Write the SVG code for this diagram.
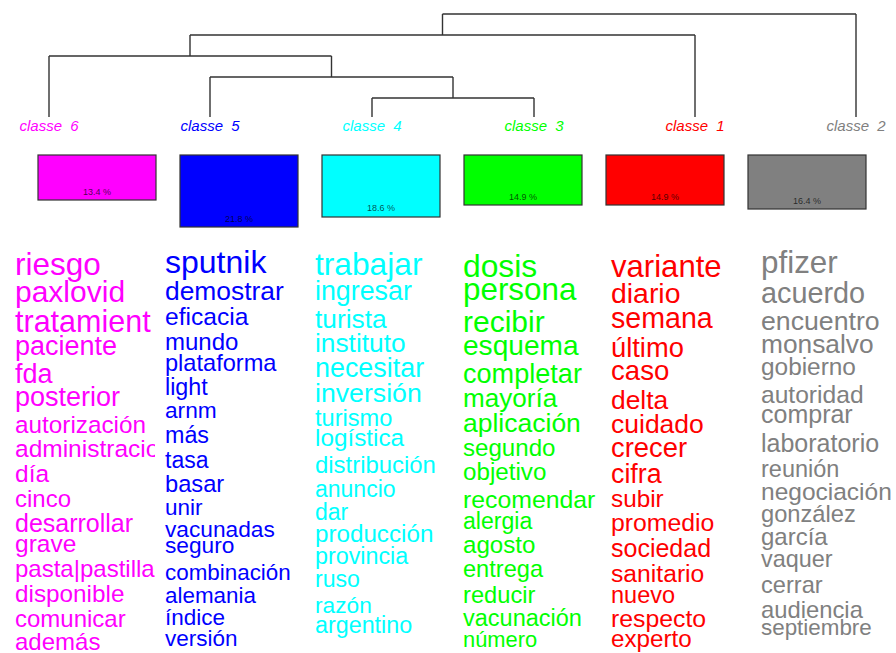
<svg xmlns="http://www.w3.org/2000/svg" width="896" height="653" viewBox="0 0 896 653">
<defs>
<style>
text{font-family:"Liberation Sans",Arial,sans-serif;}
.lbl{font-size:15px;font-style:italic;text-anchor:middle;word-spacing:4px;}
.pct{font-size:9px;text-anchor:middle;fill:#000;fill-opacity:0.7;}
.box{stroke:#333;stroke-width:1.2;}
.tree{stroke:#333;stroke-width:1.4;fill:none;}
.c6{fill:#FF00FF;}.c5{fill:#0000FF;}.c4{fill:#00FFFF;}.c3{fill:#00FF00;}.c1{fill:#FF0000;}.c2{fill:#808080;}
</style>
<clipPath id="clip6"><rect x="0" y="240" width="155" height="413"/></clipPath>
</defs>
<rect width="896" height="653" fill="#fff"/>
<g id="connectors" class="tree">
<path d="M442.5,14H856M442.5,14V35M856,14V117"/>
<path d="M190,35H695M190,35V56M695,35V117"/>
<path d="M49,56H331.5M49,56V117M331.5,56V77"/>
<path d="M210,77H453M210,77V117M453,77V98"/>
<path d="M372,98H534M372,98V117M534,98V117"/>
</g>
<g id="classe6">
<text class="lbl c6" x="49" y="131">classe 6</text>
<rect class="box c6" x="38" y="155" width="118" height="45"/>
<text class="pct" x="97" y="195">13.4 %</text>
<g class="c6" clip-path="url(#clip6)">
<text x="15" y="275" font-size="31.5">riesgo</text>
<text x="15" y="302" font-size="30">paxlovid</text>
<text x="15" y="332" font-size="30.5">tratamient</text>
<text x="15" y="355" font-size="27">paciente</text>
<text x="15" y="383" font-size="27">fda</text>
<text x="15" y="406" font-size="27">posterior</text>
<text x="15" y="433" font-size="24.3">autorización</text>
<text x="15" y="457" font-size="24.5">administracio</text>
<text x="15" y="482" font-size="24.5">día</text>
<text x="15" y="507" font-size="24">cinco</text>
<text x="15" y="532" font-size="25">desarrollar</text>
<text x="15" y="552" font-size="24.5">grave</text>
<text x="15" y="577" font-size="24">pasta|pastilla</text>
<text x="15" y="602" font-size="24.3">disponible</text>
<text x="15" y="627" font-size="24">comunicar</text>
<text x="15" y="650" font-size="24">además</text>
</g>
</g>
<g id="classe5">
<text class="lbl c5" x="210" y="131">classe 5</text>
<rect class="box c5" x="180" y="155" width="118" height="72"/>
<text class="pct" x="239" y="222">21.8 %</text>
<g class="c5">
<text x="165" y="273" font-size="32">sputnik</text>
<text x="165" y="300" font-size="26.4">demostrar</text>
<text x="165" y="325" font-size="24.6">eficacia</text>
<text x="165" y="350" font-size="24">mundo</text>
<text x="165" y="371" font-size="23.6">plataforma</text>
<text x="165" y="395" font-size="23.3">light</text>
<text x="165" y="418" font-size="22.7">arnm</text>
<text x="165" y="443" font-size="23.3">más</text>
<text x="165" y="468" font-size="23">tasa</text>
<text x="165" y="492" font-size="23.7">basar</text>
<text x="165" y="515" font-size="22.5">unir</text>
<text x="165" y="537" font-size="22.7">vacunadas</text>
<text x="165" y="553" font-size="22.7">seguro</text>
<text x="165" y="580" font-size="22.4">combinación</text>
<text x="165" y="603" font-size="22.4">alemania</text>
<text x="165" y="625" font-size="22.5">índice</text>
<text x="165" y="646" font-size="22.5">versión</text>
</g>
</g>
<g id="classe4">
<text class="lbl c4" x="372" y="131">classe 4</text>
<rect class="box c4" x="322" y="155" width="118" height="62"/>
<text class="pct" x="381" y="211">18.6 %</text>
<g class="c4">
<text x="315" y="275" font-size="31.7">trabajar</text>
<text x="315" y="300" font-size="26.8">ingresar</text>
<text x="315" y="328" font-size="26.3">turista</text>
<text x="315" y="352" font-size="26.3">instituto</text>
<text x="315" y="377" font-size="26.9">necesitar</text>
<text x="315" y="402" font-size="26.7">inversión</text>
<text x="315" y="426" font-size="23.6">turismo</text>
<text x="315" y="446" font-size="24.3">logística</text>
<text x="315" y="473" font-size="23.9">distribución</text>
<text x="315" y="497" font-size="23">anuncio</text>
<text x="315" y="520" font-size="23">dar</text>
<text x="315" y="542" font-size="24.2">producción</text>
<text x="315" y="564" font-size="23.3">provincia</text>
<text x="315" y="587" font-size="23.1">ruso</text>
<text x="315" y="613" font-size="22.7">razón</text>
<text x="315" y="633" font-size="23.3">argentino</text>
</g>
</g>
<g id="classe3">
<text class="lbl c3" x="534" y="131">classe 3</text>
<rect class="box c3" x="464" y="155" width="118" height="50"/>
<text class="pct" x="523" y="200">14.9 %</text>
<g class="c3">
<text x="463" y="277" font-size="31.8">dosis</text>
<text x="463" y="300" font-size="31.4">persona</text>
<text x="463" y="332" font-size="30">recibir</text>
<text x="463" y="355" font-size="28.1">esquema</text>
<text x="463" y="383" font-size="27.1">completar</text>
<text x="463" y="407" font-size="26.1">mayoría</text>
<text x="463" y="432" font-size="26.5">aplicación</text>
<text x="463" y="456" font-size="24.1">segundo</text>
<text x="463" y="480" font-size="24.2">objetivo</text>
<text x="463" y="508" font-size="24.8">recomendar</text>
<text x="463" y="529" font-size="23.1">alergia</text>
<text x="463" y="553" font-size="24.1">agosto</text>
<text x="463" y="577" font-size="23.6">entrega</text>
<text x="463" y="603" font-size="23.7">reducir</text>
<text x="463" y="626" font-size="23.5">vacunación</text>
<text x="463" y="647" font-size="21.9">número</text>
</g>
</g>
<g id="classe1">
<text class="lbl c1" x="695" y="131">classe 1</text>
<rect class="box c1" x="606" y="155" width="118" height="50"/>
<text class="pct" x="665" y="200">14.9 %</text>
<g class="c1">
<text x="611" y="277" font-size="31.1">variante</text>
<text x="611" y="303" font-size="28.4">diario</text>
<text x="611" y="328" font-size="28.6">semana</text>
<text x="611" y="357" font-size="27.3">último</text>
<text x="611" y="380" font-size="27.6">caso</text>
<text x="611" y="409" font-size="26.4">delta</text>
<text x="611" y="433" font-size="26.5">cuidado</text>
<text x="611" y="457" font-size="27.4">crecer</text>
<text x="611" y="483" font-size="26.8">cifra</text>
<text x="611" y="507" font-size="24.3">subir</text>
<text x="611" y="531" font-size="24.8">promedio</text>
<text x="611" y="557" font-size="25">sociedad</text>
<text x="611" y="582" font-size="24.7">sanitario</text>
<text x="611" y="603" font-size="23.5">nuevo</text>
<text x="611" y="627" font-size="24.8">respecto</text>
<text x="611" y="647" font-size="24.2">experto</text>
</g>
</g>
<g id="classe2">
<text class="lbl c2" x="856" y="131">classe 2</text>
<rect class="box c2" x="748" y="155" width="118" height="54"/>
<text class="pct" x="807" y="204">16.4 %</text>
<g class="c2">
<text x="761" y="273" font-size="31.4">pfizer</text>
<text x="761" y="303" font-size="28.8">acuerdo</text>
<text x="761" y="330" font-size="26.7">encuentro</text>
<text x="761" y="353" font-size="26.3">monsalvo</text>
<text x="761" y="375" font-size="24.4">gobierno</text>
<text x="761" y="403" font-size="24.6">autoridad</text>
<text x="761" y="423" font-size="25">comprar</text>
<text x="761" y="452" font-size="25">laboratorio</text>
<text x="761" y="477" font-size="23.5">reunión</text>
<text x="761" y="500" font-size="24.5">negociación</text>
<text x="761" y="522" font-size="23.7">gonzález</text>
<text x="761" y="545" font-size="24">garcía</text>
<text x="761" y="567" font-size="23.4">vaquer</text>
<text x="761" y="593" font-size="23.6">cerrar</text>
<text x="761" y="618" font-size="23.8">audiencia</text>
<text x="761" y="635" font-size="22.4">septiembre</text>
</g>
</g>
</svg>
